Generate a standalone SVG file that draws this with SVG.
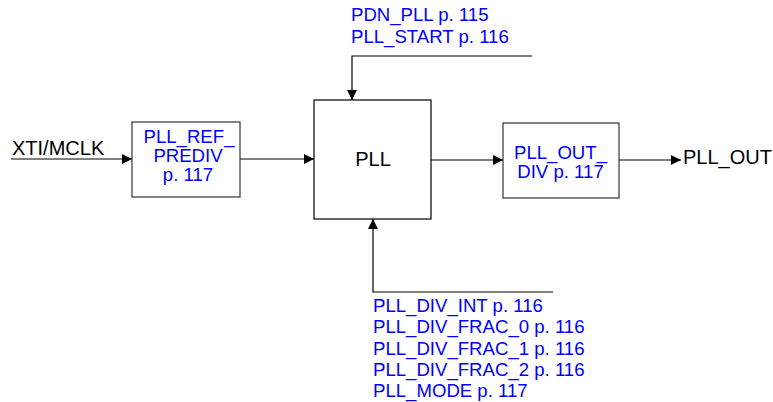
<svg xmlns="http://www.w3.org/2000/svg" width="773" height="402" viewBox="0 0 773 402">
<style>
text{font-family:"Liberation Sans",Arial,sans-serif}
.b{fill:#0000ff;font-size:18.6px}
.k{fill:#000;font-size:20px}
.box{fill:#fff;stroke:#333;stroke-width:1.2}
.ln{fill:none;stroke:#000;stroke-width:1.2}
</style>
<defs>
<marker id="ah" markerUnits="userSpaceOnUse" markerWidth="11" markerHeight="10" refX="10" refY="5" orient="auto">
<path d="M0,0 L10,5 L0,10 Z" fill="#000"/>
</marker>
</defs>
<g id="connectors">
<path class="ln" d="M11,159 H132" marker-end="url(#ah)"/>
<path class="ln" d="M240,159 H314" marker-end="url(#ah)"/>
<path class="ln" d="M532,56 H352 V100" marker-end="url(#ah)"/>
<path class="ln" d="M553,292 H373 V219" marker-end="url(#ah)"/>
<path class="ln" d="M431,160 H503" marker-end="url(#ah)"/>
<path class="ln" d="M619,160 H681" marker-end="url(#ah)"/>
</g>
<g id="xti"><text class="k" x="12" y="155">XTI/MCLK</text></g>
<g id="prediv">
<rect class="box" x="132" y="122" width="108" height="75"/>
<text class="b" text-anchor="middle"><tspan x="189" y="143">PLL_REF_</tspan><tspan x="188" y="162">PREDIV</tspan><tspan x="188" y="181">p. 117</tspan></text>
</g>
<g id="pll">
<rect class="box" x="314" y="100" width="117" height="119" style="stroke:#000"/>
<text class="k" x="373" y="166" text-anchor="middle">PLL</text>
</g>
<g id="outdiv">
<rect class="box" x="503" y="123" width="116" height="75"/>
<text class="b" text-anchor="middle"><tspan x="560.5" y="159">PLL_OUT_</tspan><tspan x="560.5" y="178">DIV p. 117</tspan></text>
</g>
<g id="pllout"><text class="k" x="683" y="164">PLL_OUT</text></g>
<g id="toplabels">
<text class="b" x="351" y="21">PDN_PLL p. 115</text>
<text class="b" x="351" y="43">PLL_START p. 116</text>
</g>
<g id="bottomlabels">
<text class="b" x="373" y="312">PLL_DIV_INT p. 116</text>
<text class="b" x="373" y="333">PLL_DIV_FRAC_0 p. 116</text>
<text class="b" x="373" y="355">PLL_DIV_FRAC_1 p. 116</text>
<text class="b" x="373" y="376">PLL_DIV_FRAC_2 p. 116</text>
<text class="b" x="373" y="397">PLL_MODE p. 117</text>
</g>
</svg>
